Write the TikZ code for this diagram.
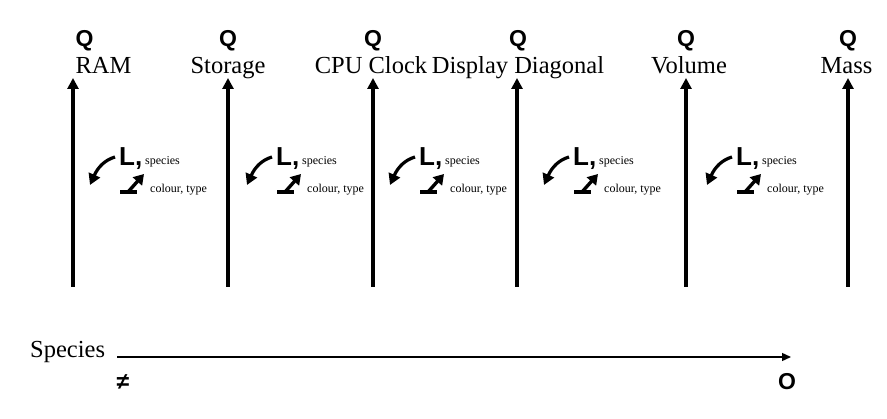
\documentclass[tikz,border=0pt]{standalone}
\usepackage{fontspec}
\setmainfont{Liberation Serif}
\newfontfamily\qfont{Liberation Sans}
\usetikzlibrary{arrows.meta}
\tikzset{
  vaxis/.style={line width=3.6pt,-{Triangle[length=11pt,width=11pt]}},
  haxis/.style={line width=1.4pt,-{Triangle[length=9pt,width=8pt]}},
  qlab/.style={font=\qfont\bfseries\fontsize{23}{23}\selectfont,inner sep=0pt},
  axlabel/.style={font=\fontsize{24.5}{24.5}\selectfont,inner sep=0pt,anchor=base},
  smalltxt/.style={font=\fontsize{12}{12}\selectfont,inner sep=0pt,anchor=base west},
  lsym/.style={font=\qfont\bfseries\fontsize{26}{26}\selectfont,inner sep=0pt,anchor=base west},
  carrow/.style={line width=3.2pt,-{Triangle[length=11pt,width=12pt]}},
  darrow/.style={line width=3.4pt,-{Triangle[length=10pt,width=12pt]}},
  barline/.style={line width=3.6pt},
}
\begin{document}
\begin{tikzpicture}[x=1pt,y=-1pt]
\useasboundingbox (0,0) rectangle (887,419);
% vertical axes
\foreach \i/\x/\qx/\lx/\txt in {1/73/84.5/103.5/RAM,2/228/228/228/Storage,3/373/373/371/CPU Clock,4/517/518/518/Display Diagonal,5/686/686/689/Volume,6/848/848/846.5/Mass}{
  \coordinate (b\i) at (\x,287);
  \coordinate (t\i) at (\x,78);
  \draw[vaxis] (b\i) -- (t\i);
  \node[qlab] (q\i) at (\qx,41) {Q};
  \node[axlabel] (n\i) at (\lx,74) {\txt};
}
% variation symbols
\foreach \j/\xl in {1/119,2/276,3/419,4/573,5/736}{
  \node[lsym] (l\j) at (\xl,166) {L,};
  \node[smalltxt] (s\j) at (\xl+26,165) {species};
  \node[smalltxt] (c\j) at (\xl+31,193) {colour, type};
  \coordinate (ca\j) at (\xl-4,157);
  \coordinate (cb\j) at (\xl-29,185);
  \draw[carrow] (ca\j) .. controls (\xl-14,160) and (\xl-21,167) .. (cb\j);
  \coordinate (ba\j) at (\xl+1,192);
  \coordinate (bb\j) at (\xl+18,192);
  \draw[barline] (ba\j) -- (bb\j);
  \coordinate (da\j) at (\xl+9,192);
  \coordinate (db\j) at (\xl+25,174);
  \draw[darrow] (da\j) -- (db\j);
}
% horizontal axis
\node[axlabel,anchor=base west] (sp) at (30,358) {Species};
\coordinate (h0) at (117,357);
\coordinate (h1) at (791,357);
\draw[haxis] (h0) -- (h1);
\node[qlab] (neq) at (123,382) {≠};
\node[qlab] (ord) at (787,382) {O};
\end{tikzpicture}
\end{document}
